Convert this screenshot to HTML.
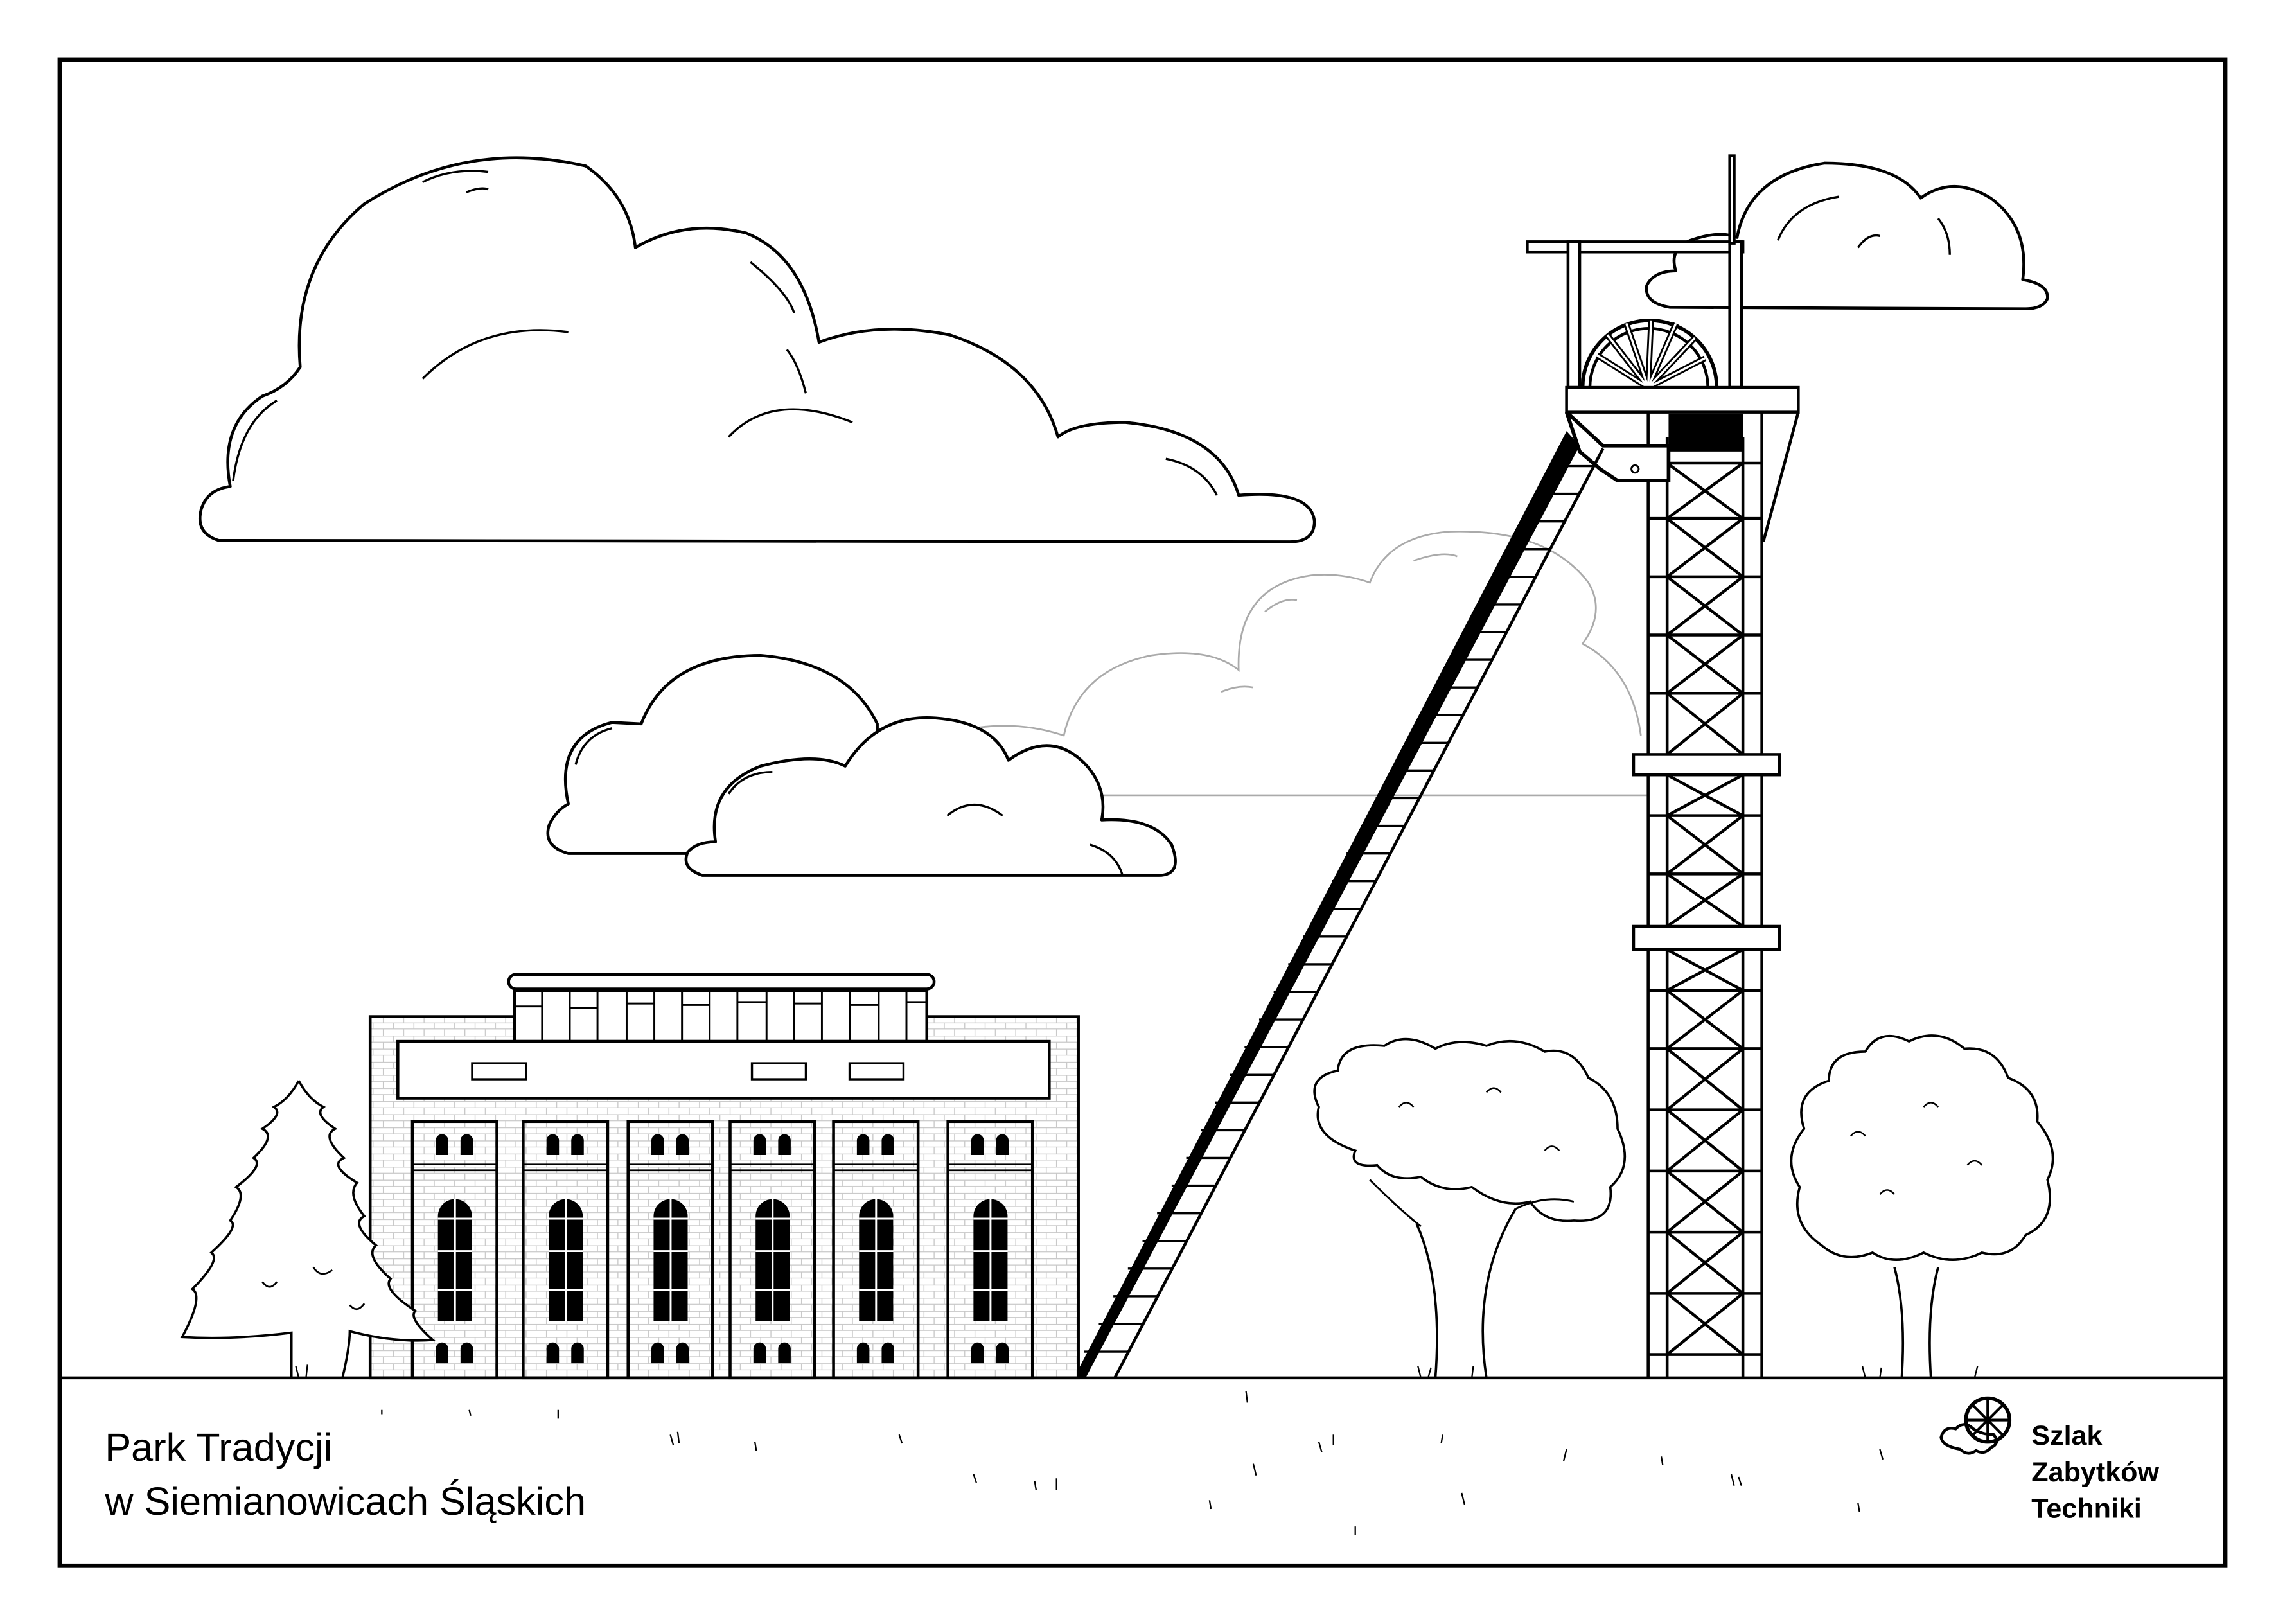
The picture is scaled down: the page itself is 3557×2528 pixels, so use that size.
<!DOCTYPE html>
<html><head><meta charset="utf-8"><style>
html,body{margin:0;padding:0;background:#fff;}
svg{display:block;}
</style></head><body>
<svg width="3557" height="2528" viewBox="0 0 1568 1115" preserveAspectRatio="none" xmlns="http://www.w3.org/2000/svg">
<defs>
<pattern id="brick" width="14" height="9" patternUnits="userSpaceOnUse">
<rect width="14" height="9" fill="#fff"/>
<path d="M0,0.3H14M0,4.5H14M4,0V4.5M11,4.5V9" stroke="#c8c8c8" stroke-width="0.6" fill="none"/>
</pattern>
</defs>
<rect width="1568" height="1115" fill="#fff"/>
<rect x="41" y="41" width="1486" height="1034" fill="none" stroke="#000" stroke-width="3"/>

<!-- gray cloud -->
<g fill="none" stroke="#aaa" stroke-width="1.2">
<path d="M668,500 Q700,495 730,505 Q740,460 790,450 Q830,444 850,460 Q848,402 900,395 Q920,393 940,400 Q952,368 995,365 Q1062,363 1090,400 Q1102,420 1086,442 Q1120,460 1126,505"/>
<path d="M755,546 H1130"/>
<path d="M868,420 Q880,410 890,412 M970,385 Q990,378 1000,382 M838,475 Q850,470 860,472"/>
</g>

<!-- clouds -->
<g fill="#fff" stroke="#000" stroke-width="2" stroke-linejoin="round">
<path d="M150,371 Q134,366 138,350 Q142,336 158,334 Q150,292 180,272 Q197,266 206,252 Q200,182 250,140 Q320,95 402,114 Q432,135 436,170 Q470,150 512,160 Q552,176 562,235 Q602,220 652,230 Q712,250 726,300 Q738,290 772,290 Q837,296 850,340 Q900,336 902,358 Q902,372 885,372 Z"/>
<path d="M390,586 Q372,581 377,566 Q382,556 390,552 Q380,506 420,496 L440,497 Q458,450 522,450 Q582,455 602,497 L602,586 Z"/>
<path d="M482,601 Q467,596 472,585 Q478,578 491,578 Q485,540 522,526 Q560,516 580,526 Q602,490 642,493 Q682,496 692,522 Q722,500 746,526 Q760,542 756,563 Q792,561 804,580 Q812,601 795,601 Z"/>
<path d="M1146,211 Q1128,208 1130,196 Q1135,186 1150,186 Q1145,171 1160,165 Q1180,158 1192,163 Q1200,120 1252,112 Q1302,112 1318,136 Q1340,120 1366,136 Q1393,156 1388,192 Q1406,195 1405,205 Q1402,212 1390,212 Z"/>
</g>
<g fill="none" stroke="#000" stroke-width="1.5">
<path d="M290,125 Q310,115 335,118 M320,132 Q330,128 335,130 M160,330 Q165,290 190,275 M290,260 Q330,220 390,228 M500,300 Q530,268 585,290 M515,180 Q540,200 545,215 M540,240 Q548,250 553,270 M800,315 Q825,320 835,340 M395,525 Q400,505 420,500 M500,545 Q510,530 530,530 M650,560 Q668,545 688,560 M748,580 Q765,585 770,600 M1220,165 Q1230,140 1262,135 M1330,150 Q1338,160 1338,175 M1275,170 Q1282,160 1290,162"/>
</g>

<!-- headframe top -->
<g stroke="#000" stroke-width="2" fill="#fff">
<rect x="1048" y="166" width="148" height="7"/>
<rect x="1076" y="166" width="8" height="100"/>
<rect x="1187" y="166" width="8" height="100"/>
<rect x="1187" y="107" width="3" height="60"/>
<path d="M1086,266 A46,46 0 0 1 1178,266" stroke-width="2.5"/>
<path d="M1091,266 A40,40 0 0 1 1172,266"/>
<path d="M1131,266 L1096,244 M1131,266 L1103,230 M1131,266 L1116,222 M1131,266 L1133,220 M1131,266 L1150,222 M1131,266 L1163,232 M1131,266 L1170,246" stroke-width="4"/>
<path d="M1131,266 L1096,244 M1131,266 L1103,230 M1131,266 L1116,222 M1131,266 L1133,220 M1131,266 L1150,222 M1131,266 L1163,232 M1131,266 L1170,246" stroke="#fff" stroke-width="1.5"/>
</g>

<!-- tower lattice -->
<g stroke="#000" stroke-width="2" fill="none">
<path d="M1131,283 V946 M1144,300 V946 M1196,300 V946 M1209,283 V946"/>
<path d="M1234,283 L1210,372"/>
<path id="lat" d="M1131,318 H1209 M1131,356 H1209 M1131,396 H1209 M1131,436 H1209 M1131,476 H1209 M1131,560 H1209 M1131,600 H1209 M1131,680 H1209 M1131,720 H1209 M1131,762 H1209 M1131,804 H1209 M1131,846 H1209 M1131,888 H1209 M1131,930 H1209"/>
<path d="M1144,318 L1196,356 M1196,318 L1144,356 M1144,356 L1196,396 M1196,356 L1144,396 M1144,396 L1196,436 M1196,396 L1144,436 M1144,436 L1196,476 M1196,436 L1144,476 M1144,476 L1196,518 M1196,476 L1144,518 M1144,532 L1196,560 M1196,532 L1144,560 M1144,560 L1196,600 M1196,560 L1144,600 M1144,600 L1196,636 M1196,600 L1144,636 M1144,652 L1196,680 M1196,652 L1144,680 M1144,680 L1196,720 M1196,680 L1144,720 M1144,720 L1196,762 M1196,720 L1144,762 M1144,762 L1196,804 M1196,762 L1144,804 M1144,804 L1196,846 M1196,804 L1144,846 M1144,846 L1196,888 M1196,846 L1144,888 M1144,888 L1196,930 M1196,888 L1144,930"/>
</g>
<g stroke="#000" stroke-width="2" fill="#fff">
<rect x="1121" y="518" width="100" height="14"/>
<rect x="1121" y="636" width="100" height="16"/>
<rect x="1075" y="266" width="159" height="17"/>
</g>
<rect x="1145" y="284" width="51" height="26" fill="#000"/>

<!-- incline ladder -->
<path d="M737,946 L1075,296 L1084,306 L745,946 Z" fill="#000"/>
<path d="M1075,283 L1100,306 L1145,306 L1145,330 L1110,330 L1098,322 L1084,310 Z" fill="#fff" stroke="#000" stroke-width="2.5"/>
<circle cx="1122" cy="322" r="2.5" fill="none" stroke="#000" stroke-width="1.3"/>
<path d="M765,946 L1100,308" stroke="#000" stroke-width="2"/>
<g stroke="#000" stroke-width="1.5">
<path d="M744,928 L774,928 M754,909 L784,909 M764,890 L794,890 M774,871 L804,871 M784,852 L814,852 M794,833 L824,833 M804,814 L834,814 M814,795 L844,795 M824,776 L854,776 M834,757 L864,757 M844,738 L874,738 M854,719 L884,719 M864,700 L894,700 M874,681 L904,681 M884,662 L914,662 M894,643 L924,643 M904,624 L934,624 M914,605 L944,605 M924,586 L954,586 M934,567 L964,567 M944,548 L974,548 M954,529 L984,529 M964,510 L994,510 M974,491 L1004,491 M984,472 L1014,472 M994,453 L1024,453 M1004,434 L1034,434 M1014,415 L1044,415 M1024,396 L1054,396 M1034,377 L1064,377 M1044,358 L1074,358 M1054,339 L1084,339 M1064,320 L1094,320"/>
</g>

<!-- building -->
<g stroke="#000" stroke-width="2">
<rect x="254" y="698" width="486" height="248" fill="url(#brick)"/>
<rect x="353" y="680" width="283" height="35" fill="#fff"/>
<path d="M391,680V715M430,680V715M468,680V715M506,680V715M545,680V715M583,680V715M622,680V715M372,680V715M410,680V715M449,680V715M487,680V715M526,680V715M564,680V715M603,680V715" stroke-width="1.3"/>
<path d="M353,691H372M391,692H410M430,689H449M468,690H487M506,688H526M545,689H564M583,690H603M622,688H636" stroke-width="1.3"/>
<rect x="349" y="669" width="292" height="10" rx="5" fill="#fff"/>
<rect x="273" y="715" width="447" height="39" fill="#fff"/>
<rect x="324" y="730" width="37" height="11" fill="#fff" stroke-width="1.5"/>
<rect x="516" y="730" width="37" height="11" fill="#fff" stroke-width="1.5"/>
<rect x="583" y="730" width="37" height="11" fill="#fff" stroke-width="1.5"/>
</g>
<g id="bays">
<g id="bay" transform="translate(283,0)">
<rect x="0" y="770" width="58" height="176" fill="none" stroke="#000" stroke-width="2"/>
<path d="M0,799.5H58M0,803.5H58" stroke="#000" stroke-width="1.2"/>
<path d="M16,793V783a4.3,4.3 0 0 1 8.6,0V793Z M33,793V783a4.3,4.3 0 0 1 8.6,0V793Z" fill="#000"/>
<path d="M16,936V926a4.3,4.3 0 0 1 8.6,0V936Z M33,936V926a4.3,4.3 0 0 1 8.6,0V936Z" fill="#000"/>
<path d="M17.5,907V835a11.7,11.7 0 0 1 23.4,0V907Z" fill="#000"/>
<path d="M29.2,823V907M17.5,836.7H41M17.5,859H41M17.5,885.6H41" stroke="#fff" stroke-width="1.3"/>
</g>
<use href="#bay" transform="translate(76,0)"/>
<use href="#bay" transform="translate(148,0)"/>
<use href="#bay" transform="translate(218,0)"/>
<use href="#bay" transform="translate(289,0)"/>
<use href="#bay" transform="translate(367.5,0)"/>
</g>

<!-- conifer -->
<path d="M205,742 Q212,755 222,760 Q215,765 230,775 Q220,780 236,795 Q225,800 245,812 Q238,820 250,835 Q240,840 258,855 Q250,862 268,878 Q262,885 285,900 Q280,905 297,920 Q270,922 240,914 Q240,925 235,946 M205,742 Q198,755 188,760 Q195,765 180,775 Q190,780 174,795 Q182,800 162,815 Q170,820 158,838 Q165,842 145,860 Q152,865 132,885 Q140,890 125,918 Q160,920 200,915 L200,946" fill="#fff" stroke="#000" stroke-width="1.6"/>
<path d="M215,870 Q220,878 228,872 M240,896 Q245,902 250,895 M180,880 Q185,887 190,880" fill="none" stroke="#000" stroke-width="1.2"/>

<!-- tree 1 -->
<path d="M985,946 Q990,880 972,840 M1020,946 Q1010,880 1040,830" fill="none" stroke="#000" stroke-width="1.6"/>
<path d="M930,790 Q900,780 905,760 Q895,740 918,735 Q920,715 950,718 Q965,708 985,720 Q1000,712 1020,718 Q1040,710 1060,722 Q1080,718 1090,740 Q1110,750 1110,775 Q1122,800 1105,815 Q1108,840 1080,838 Q1060,840 1050,825 Q1030,830 1010,815 Q990,820 975,808 Q955,812 945,800 Q925,802 930,790 Z" fill="#fff" stroke="#000" stroke-width="1.6"/>
<path d="M940,810 Q960,830 975,842 M1040,830 Q1060,820 1080,825" fill="none" stroke="#000" stroke-width="1.3"/>
<!-- tree 2 -->
<path d="M1305,946 Q1308,900 1300,870 M1325,946 Q1322,900 1330,870" fill="none" stroke="#000" stroke-width="1.6"/>
<path d="M1250,855 Q1228,840 1235,815 Q1222,795 1238,775 Q1230,750 1255,742 Q1255,722 1280,722 Q1290,705 1310,715 Q1330,705 1348,720 Q1370,718 1378,740 Q1400,748 1398,770 Q1415,790 1405,810 Q1412,838 1390,848 Q1380,865 1360,860 Q1340,870 1320,860 Q1300,870 1285,860 Q1265,868 1250,855 Z" fill="#fff" stroke="#000" stroke-width="1.6"/>
<g fill="none" stroke="#000" stroke-width="1.1">
<path d="M1270,780 q5,-6 10,0 M1320,760 q5,-6 10,0 M1350,800 q5,-6 10,0 M1290,820 q5,-6 10,0 M960,760 q5,-6 10,0 M1020,750 q5,-6 10,0 M1060,790 q5,-6 10,0"/>
</g>

<!-- ground -->
<path d="M41,946 H1527" stroke="#000" stroke-width="2"/>
<g stroke="#000" stroke-width="1" fill="none">
<path d="M205,946 l-2,-8 M210,946 l1,-9 M975,946 l-2,-8 M980,946 l2,-7 M1010,946 l1,-8 M1280,946 l-2,-8 M1290,946 l1,-7 M1355,946 l2,-8 M460,985 l2,7 M465,983 l1,8 M518,990 l1,6 M617,985 l2,6 M668,1012 l2,6 M725,1015 l0,8 M710,1017 l1,6 M855,955 l1,8 M860,1005 l2,8 M905,990 l2,7 M915,985 l0,7 M990,985 l-1,6 M1003,1025 l2,8 M1075,995 l-2,8 M1140,1000 l1,6 M1188,1012 l2,8 M1193,1014 l2,6 M1290,995 l2,7 M1275,1032 l1,6 M830,1030 l1,6 M930,1048 l0,6 M322,968 l1,4 M383,968 l0,6 M262,968 l0,3"/>
</g>

<!-- text -->
<text x="72" y="1003" font-family="Liberation Sans, sans-serif" font-size="27" fill="#000">Park Tradycji</text>
<text x="72" y="1040" font-family="Liberation Sans, sans-serif" font-size="27" fill="#000">w Siemianowicach Śląskich</text>
<g fill="none" stroke="#000" stroke-width="2.5">
<circle cx="1364" cy="975" r="15"/>
<path d="M1364,960V990M1349,975H1379M1353,964L1375,986M1375,964L1353,986" stroke-width="1.8"/>
<path d="M1345,995 q-12,-2 -13,-8 q2,-8 10,-6 q6,-6 12,0 q6,4 14,4 q5,6 -2,9 q-4,5 -10,2 q-6,4 -11,-1 Z" stroke-width="2"/>
</g>
<g font-family="Liberation Sans, sans-serif" font-weight="bold" font-size="19" fill="#000">
<text x="1394" y="992">Szlak</text>
<text x="1394" y="1017">Zabytków</text>
<text x="1394" y="1042">Techniki</text>
</g>
</svg>
</body></html>
